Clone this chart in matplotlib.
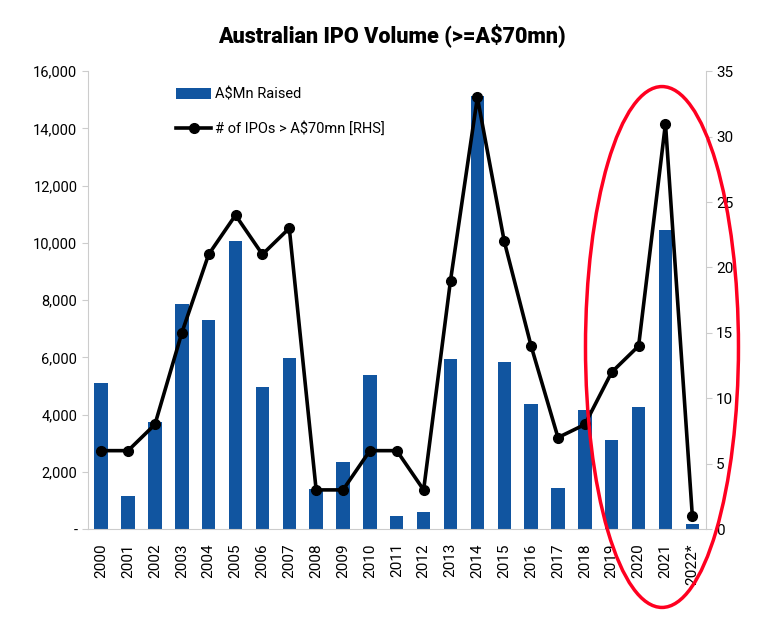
import matplotlib.pyplot as plt
from matplotlib.patches import Ellipse
from matplotlib.ticker import FuncFormatter

plt.rcParams['font.family'] = ['Roboto', 'DejaVu Sans']

years = ['2000', '2001', '2002', '2003', '2004', '2005', '2006', '2007', '2008', '2009',
         '2010', '2011', '2012', '2013', '2014', '2015', '2016', '2017', '2018', '2019',
         '2020', '2021', '2022*']
raised = [5100, 1150, 3740, 7870, 7300, 10070, 4970, 5980, 1400, 2340,
          5380, 450, 590, 5940, 15140, 5840, 4370, 1430, 4160, 3110,
          4270, 10450, 170]
num_ipos = [6, 6, 8, 15, 21, 24, 21, 23, 3, 3, 6, 6, 3, 19, 33, 22, 14, 7, 8, 12, 14, 31, 1]

fig = plt.figure(figsize=(7.63, 6.36), dpi=100)
ax = fig.add_axes([0.115, 0.168, 0.81, 0.72])
x = range(len(years))
bars = ax.bar(x, raised, width=0.5, color='#1155A0', label='A$Mn Raised', zorder=1)
ax.set_ylim(0, 16000)
ax.set_yticks(range(0, 16001, 2000))
ax.yaxis.set_major_formatter(FuncFormatter(lambda v, p: '-' if v == 0 else f'{int(v):,}'))
ax.set_xlim(-0.5, len(years) - 0.5)
ax.set_xticks(list(x))
ax.set_xticklabels(years, rotation=90)
ax.tick_params(axis='x', length=0, labelsize=11, pad=10)
ax.tick_params(axis='y', length=4, color='#cccccc', labelsize=10.5)

ax2 = ax.twinx()
line, = ax2.plot(x, num_ipos, color='black', lw=2.6, marker='o', markersize=7,
                 label='# of IPOs > A$70mn [RHS]')
ax2.set_ylim(0, 35)
ax2.set_yticks(range(0, 36, 5))
ax2.tick_params(axis='y', length=4, color='#cccccc', labelsize=11)

for a in (ax, ax2):
    a.spines['top'].set_visible(False)
    for s in ('left', 'right', 'bottom'):
        a.spines[s].set_color('#cccccc')
ax.spines['right'].set_visible(False)
ax2.spines['left'].set_visible(False)
ax2.spines['bottom'].set_visible(False)

leg = ax.legend([bars, line], ['A$Mn Raised', '# of IPOs > A$70mn [RHS]'],
                loc='upper left', bbox_to_anchor=(0.122, 0.993), frameon=False,
                fontsize=10.5, labelspacing=1.35, handlelength=2.4, handletextpad=0.25)

fig.text(0.514, 0.945, 'Australian IPO Volume (>=A$70mn)', ha='center', va='center',
         fontsize=15.5, fontweight='black')

ell = Ellipse((0.8676, 0.4544), 0.2005, 0.819, transform=fig.transFigure,
              fill=False, edgecolor='#FF0020', lw=2.5, clip_on=False, zorder=10)
fig.patches.append(ell)

fig.savefig('out.png', dpi=100)
